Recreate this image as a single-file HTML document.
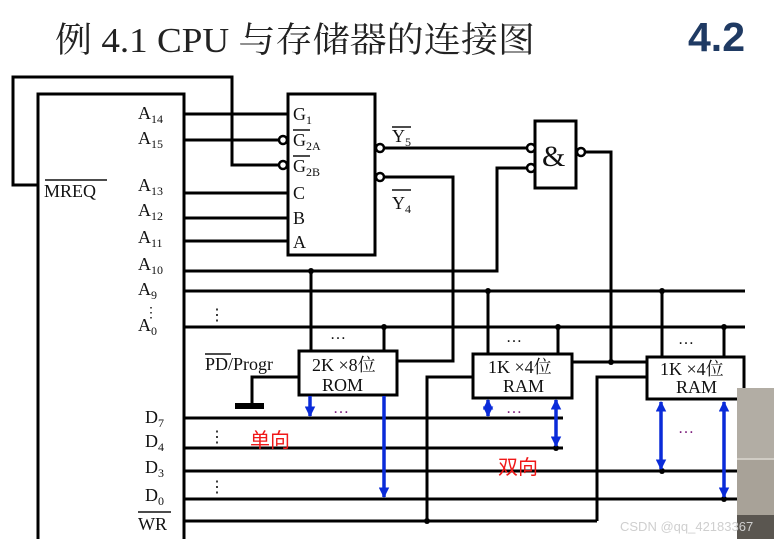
<!DOCTYPE html>
<html><head><meta charset="utf-8"><style>
html,body{margin:0;padding:0;background:#fff;}
svg{display:block;}
text{font-family:"Liberation Serif","Noto Serif CJK SC",serif;fill:#111;}
</style></head><body>
<svg width="774" height="539" viewBox="0 0 774 539" xmlns="http://www.w3.org/2000/svg">
<defs>
<marker id="ah" viewBox="0 0 10 10" refX="9" refY="5" markerWidth="3" markerHeight="3" orient="auto-start-reverse"><path d="M0,0 L10,5 L0,10 z" fill="#0a2bd9"/></marker>
</defs>
<text x="55" y="52" font-size="35" textLength="480" lengthAdjust="spacingAndGlyphs" style="font-family:'Liberation Serif','Noto Serif CJK SC',serif;fill:#222">例 4.1 CPU 与存储器的连接图</text>
<text x="688" y="51" font-size="41" font-weight="bold" style="font-family:'Liberation Sans',sans-serif;fill:#1f3a63">4.2</text>

<g stroke="#000" stroke-width="3" fill="none">
<path d="M38,539 V94 H184 V539"/>
<path d="M38,185 H13 V77 H232 V165 H280"/>
<path d="M184,114 H288"/>
<path d="M184,140 H279"/>
<path d="M184,193 H288 M184,218 H288 M184,241 H288"/>
<rect x="288" y="94" width="87" height="161"/>
<rect x="535" y="121" width="41" height="67"/>
<path d="M384,148 H528"/>
<path d="M384,177 H453 V361 H397"/>
<path d="M184,271 H497 V168 H528"/>
<path d="M586,152 H611 V362"/>
<path d="M572,362 H647"/>
<path d="M184,291 H745 M184,327 H745"/>
<path d="M311,271 V351 M384,327 V351"/>
<path d="M488,291 V354 M558,327 V354"/>
<path d="M662,291 V357 M724,327 V357"/>
<rect x="299" y="351" width="98" height="44" fill="#fff"/>
<rect x="473" y="354" width="99" height="44" fill="#fff"/>
<rect x="647" y="357" width="97" height="42" fill="#fff"/>
<path d="M299,377 H252 V405"/>
<path d="M184,418 H563 M184,448 H563 M184,471 H745 M184,499 H745 M184,521 H597"/>
<path d="M427,521 V377 H473 M597,521 V377 H647"/>
</g>
<rect x="235" y="403" width="29" height="6" fill="#000"/>
<g stroke="#000" stroke-width="2.5" fill="#fff">
<circle cx="283" cy="140" r="4"/><circle cx="283" cy="165" r="4"/>
<circle cx="380" cy="148" r="4"/><circle cx="380" cy="177" r="4"/>
<circle cx="531" cy="148" r="4"/><circle cx="531" cy="168" r="4"/>
<circle cx="581" cy="152" r="4"/>
</g>
<g fill="#000">
<circle cx="311" cy="271" r="3"/><circle cx="384" cy="327" r="3"/>
<circle cx="488" cy="291" r="3"/><circle cx="558" cy="327" r="3"/>
<circle cx="662" cy="291" r="3"/><circle cx="724" cy="327" r="3"/>
<circle cx="611" cy="362" r="3"/><circle cx="427" cy="521" r="3"/>
<circle cx="724" cy="499" r="3"/><circle cx="662" cy="471" r="3"/><circle cx="556" cy="448" r="3"/>
</g>
<g stroke="#0a2bd9" stroke-width="3.5">
<path d="M310,396 V416" marker-end="url(#ah)"/>
<path d="M384,396 V497" marker-end="url(#ah)"/>
<path d="M488,400 V416" marker-start="url(#ah)" marker-end="url(#ah)"/>
<path d="M556,400 V446" marker-start="url(#ah)" marker-end="url(#ah)"/>
<path d="M661,402 V469" marker-start="url(#ah)" marker-end="url(#ah)"/>
<path d="M724,402 V497" marker-start="url(#ah)" marker-end="url(#ah)"/>
</g>
<g font-size="18">
<text x="138" y="119">A<tspan font-size="12" dy="4">14</tspan></text>
<text x="138" y="144">A<tspan font-size="12" dy="4">15</tspan></text>
<text x="138" y="191">A<tspan font-size="12" dy="4">13</tspan></text>
<text x="138" y="216">A<tspan font-size="12" dy="4">12</tspan></text>
<text x="138" y="243">A<tspan font-size="12" dy="4">11</tspan></text>
<text x="138" y="270">A<tspan font-size="12" dy="4">10</tspan></text>
<text x="138" y="295">A<tspan font-size="12" dy="4">9</tspan></text>
<text x="138" y="331">A<tspan font-size="12" dy="4">0</tspan></text>
<text x="144" y="317" font-size="14">⋮</text>
<text x="44" y="197">MREQ</text>
<text x="145" y="423">D<tspan font-size="12" dy="4">7</tspan></text>
<text x="145" y="447">D<tspan font-size="12" dy="4">4</tspan></text>
<text x="145" y="473">D<tspan font-size="12" dy="4">3</tspan></text>
<text x="145" y="501">D<tspan font-size="12" dy="4">0</tspan></text>
<text x="138" y="530">WR</text>
<text x="293" y="120">G<tspan font-size="12" dy="4">1</tspan></text>
<text x="293" y="146">G<tspan font-size="12" dy="4">2A</tspan></text>
<text x="293" y="172">G<tspan font-size="12" dy="4">2B</tspan></text>
<text x="293" y="199">C</text><text x="293" y="224">B</text><text x="293" y="248">A</text>
<text x="392" y="142">Y<tspan font-size="12" dy="4">5</tspan></text>
<text x="392" y="209">Y<tspan font-size="12" dy="4">4</tspan></text>
<text x="205" y="370">PD/Progr</text>
<text x="312" y="371">2K ×8位</text><text x="322" y="391">ROM</text>
<text x="488" y="373">1K ×4位</text><text x="503" y="392">RAM</text>
<text x="660" y="375">1K ×4位</text><text x="676" y="393">RAM</text>
</g>
<g stroke="#111" stroke-width="1.5">
<path d="M45,180 H107 M293,130 H310 M293,156 H310 M392,127 H411 M392,190 H411 M205,354 H231 M138,512 H171"/>
</g>
<g font-size="16">
<text x="209" y="320">⋮</text><text x="209" y="442">⋮</text><text x="209" y="492">⋮</text>
<text x="330" y="339">…</text><text x="506" y="342">…</text><text x="678" y="344">…</text>
<text x="333" y="413" style="fill:#7a1a7a">…</text><text x="506" y="413" style="fill:#7a1a7a">…</text><text x="678" y="433" style="fill:#7a1a7a">…</text>
</g>
<text x="250" y="447" font-size="20" style="fill:#f01818;font-family:'Noto Sans CJK SC',sans-serif">单向</text>
<text x="498" y="474" font-size="20" style="fill:#f01818;font-family:'Noto Sans CJK SC',sans-serif">双向</text>
<text x="542" y="166" font-size="30">&amp;</text>
<rect x="737" y="388" width="37" height="151" fill="#a8a298"/>
<rect x="737" y="388" width="37" height="70" fill="#b2ada4"/>
<rect x="737" y="458" width="37" height="2" fill="#d0ccc4"/>
<rect x="737" y="515" width="37" height="24" fill="#5a5650"/>
<text x="620" y="531" font-size="13" style="fill:#cfcfcf;font-family:'Liberation Sans',sans-serif">CSDN @qq_42183367</text>
</svg>
</body></html>
